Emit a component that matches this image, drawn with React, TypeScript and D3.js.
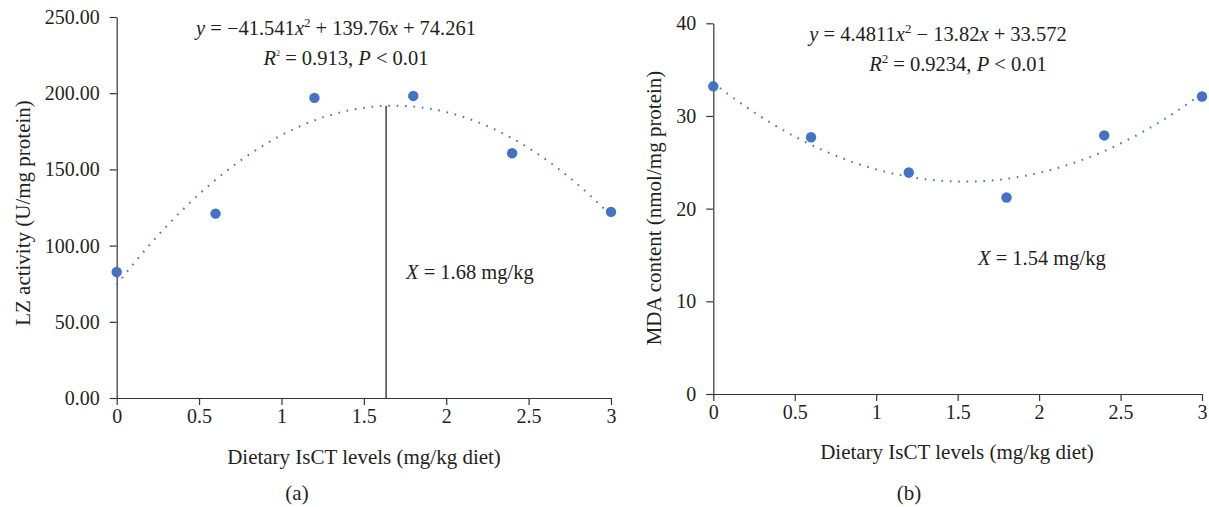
import React, { useEffect, useRef } from 'react';
import * as d3 from 'd3';

// dietary IsCT levels (mg/kg diet)
const doses = [0, 0.6, 1.2, 1.8, 2.4, 3];
// panel (a): LZ activity (U/mg protein)
const lzValues = [82.7, 121.0, 196.9, 198.2, 160.6, 122.1];
// panel (b): MDA content (nmol/mg protein)
const mdaValues = [33.2, 27.7, 23.9, 21.2, 27.9, 32.1];
// quadratic fits a*x^2 + b*x + c
const lzFit = [-41.541, 139.76, 74.261];
const mdaFit = [4.4811, -13.82, 33.572];
const lzOptimum = 1.635;
const xTicks = [0, 0.5, 1, 1.5, 2, 2.5, 3];
const lzTicks = [0, 50, 100, 150, 200, 250];
const mdaTicks = [0, 10, 20, 30, 40];

const FONT = '"Liberation Serif", "Times New Roman", serif';
const TEXT = '#231f20';
const BLUE = '#4472c4';

function Panel(props) {
  const gNode = useRef(null);
  const { box, values, fit, yTicks, yMax, yFormat, optimum } = props;

  useEffect(() => {
    const g = d3.select(gNode.current);
    g.selectAll('*').remove();

    const x = d3.scaleLinear().domain([0, 3]).range([box.left, box.right]);
    const y = d3.scaleLinear().domain([0, yMax]).range([box.bottom, box.top]);

    //axes
    const xAxis = g.append('g')
      .attr('transform', `translate(0,${box.bottom})`)
      .call(d3.axisBottom(x).tickValues(xTicks).tickSize(7).tickSizeOuter(0).tickPadding(4).tickFormat(d3.format('')));
    const yAxis = g.append('g')
      .attr('transform', `translate(${box.left},0)`)
      .call(d3.axisLeft(y).tickValues(yTicks).tickSize(7).tickSizeOuter(0).tickPadding(10).tickFormat(yFormat));
    [xAxis, yAxis].forEach(a => {
      a.selectAll('path,line').attr('stroke', '#333').attr('stroke-width', 1.2);
      a.selectAll('text').attr('fill', TEXT).style('font-family', FONT).style('font-size', '20px');
    });

    //fitted curve (dotted)
    const xs = d3.range(0, 3.0001, 0.02);
    const line = d3.line().x(d => x(d)).y(d => y(fit[0] * d * d + fit[1] * d + fit[2]));
    g.append('path')
      .datum(xs)
      .attr('d', line)
      .attr('fill', 'none')
      .attr('stroke', BLUE)
      .attr('stroke-width', 2)
      .attr('stroke-dasharray', '1.6 6.8');

    //optimum marker
    if (optimum != null) {
      const top = fit[0] * optimum * optimum + fit[1] * optimum + fit[2];
      g.append('line')
        .attr('x1', x(optimum)).attr('x2', x(optimum))
        .attr('y1', y(top)).attr('y2', y(0))
        .attr('stroke', '#333').attr('stroke-width', 1.4);
    }

    //data points
    g.selectAll('circle.pt')
      .data(doses)
      .join('circle')
      .attr('class', 'pt')
      .attr('cx', d => x(d))
      .attr('cy', (d, i) => y(values[i]))
      .attr('r', 5.2)
      .attr('fill', BLUE);
  });

  return <g ref={gNode}></g>;
}

const txt = { fontFamily: FONT, fontSize: 20.5, fill: TEXT };
const title = { fontFamily: FONT, fontSize: 21, fill: TEXT };
const it = { fontStyle: 'italic' };

export default function App() {
  return (
    <svg width={1209} height={507} style={{ position: 'absolute', left: 0, top: 0, background: '#fff' }}>
      <Panel box={{ left: 116.7, right: 611, top: 17, bottom: 398 }}
        values={lzValues} fit={lzFit} yTicks={lzTicks} yMax={250}
        yFormat={d3.format('.2f')} optimum={lzOptimum} />
      <Panel box={{ left: 713.3, right: 1202, top: 23.3, bottom: 394 }}
        values={mdaValues} fit={mdaFit} yTicks={mdaTicks} yMax={40}
        yFormat={d3.format('')} optimum={null} />

      {/* panel (a) texts */}
      <text {...txt} x={336} y={35} textAnchor="middle">
        <tspan {...it}>y</tspan> = −41.541<tspan {...it}>x</tspan>
        <tspan dy={-8} fontSize={13}>2</tspan>
        <tspan dy={8}> + 139.76</tspan><tspan {...it}>x</tspan> + 74.261
      </text>
      <text {...txt} x={346} y={65} textAnchor="middle">
        <tspan {...it}>R</tspan><tspan dy={-9} fontSize={8}>2</tspan>
        <tspan dy={9}> = 0.913, </tspan><tspan {...it}>P</tspan> &lt; 0.01
      </text>
      <text {...txt} x={406} y={279}>
        <tspan {...it}>X</tspan> = 1.68 mg/kg
      </text>
      <text {...title} x={364} y={464} textAnchor="middle">Dietary IsCT levels (mg/kg diet)</text>
      <text {...title} x={297} y={500} textAnchor="middle">(a)</text>
      <text {...title} transform="translate(30,213) rotate(-90)" textAnchor="middle">LZ activity (U/mg protein)</text>

      {/* panel (b) texts */}
      <text {...txt} x={938} y={41} textAnchor="middle">
        <tspan {...it}>y</tspan> = 4.4811<tspan {...it}>x</tspan>
        <tspan dy={-8} fontSize={13}>2</tspan>
        <tspan dy={8}> − 13.82</tspan><tspan {...it}>x</tspan> + 33.572
      </text>
      <text {...txt} x={958} y={71} textAnchor="middle">
        <tspan {...it}>R</tspan><tspan dy={-8} fontSize={13}>2</tspan>
        <tspan dy={8}> = 0.9234, </tspan><tspan {...it}>P</tspan> &lt; 0.01
      </text>
      <text {...txt} x={978} y={265}>
        <tspan {...it}>X</tspan> = 1.54 mg/kg
      </text>
      <text {...title} x={957} y={459} textAnchor="middle">Dietary IsCT levels (mg/kg diet)</text>
      <text {...title} x={909} y={500} textAnchor="middle">(b)</text>
      <text {...title} transform="translate(661,208) rotate(-90)" textAnchor="middle">MDA content (nmol/mg protein)</text>
    </svg>
  );
}
